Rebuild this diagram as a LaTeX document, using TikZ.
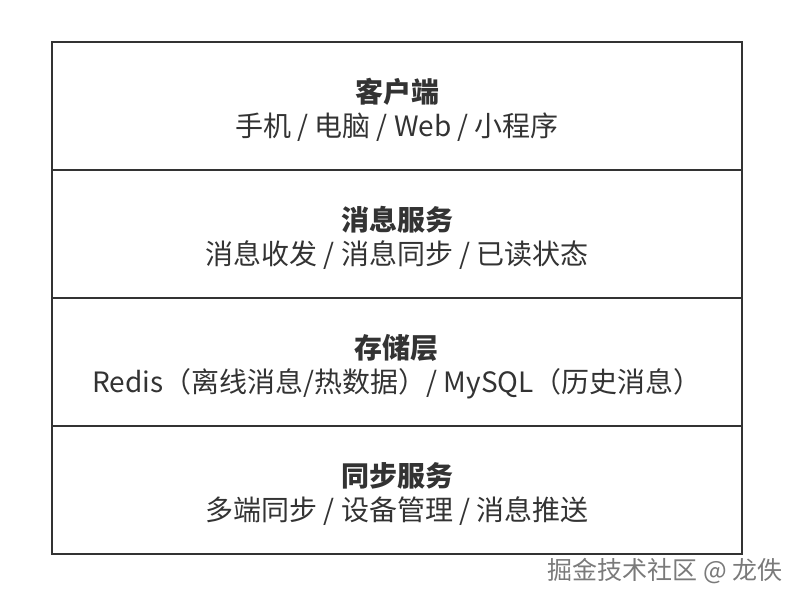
\documentclass[tikz,border=0pt]{standalone}
\usepackage{fontspec}
\setmainfont{Noto Sans CJK SC}
\usepackage{tikz}
\usetikzlibrary{positioning}
\definecolor{linegray}{HTML}{333333}
\definecolor{markgray}{HTML}{7A7A7A}
\newcommand{\layertitle}[1]{\rule{0pt}{33pt}\textbf{#1}}
\tikzset{x=1pt, y=1pt, node distance=0pt,
	layer/.style={draw=linegray, line width=2.5pt, minimum width=690pt, minimum height=128pt, inner sep=0pt, outer sep=0pt, align=center, text=linegray, font=\fontsize{28}{34}\selectfont}}

\begin{document}
\begin{tikzpicture}
	\useasboundingbox (0,0) rectangle (804,-602);
	\node[layer] (Client) at (397,-106) {\layertitle{客户端}\\手机 / 电脑 / Web / 小程序};
	\node[layer, below=of Client] (Message) {\layertitle{消息服务}\\消息收发 / 消息同步 / 已读状态};
	\node[layer, below=of Message] (Storage) {\layertitle{存储层}\\Redis（离线消息/热数据）/ MySQL（历史消息）};
	\node[layer, below=of Storage] (Sync) {\layertitle{同步服务}\\多端同步 / 设备管理 / 消息推送};
	\node[text=markgray, font=\fontsize{25}{28}\selectfont, anchor=east] (watermark) at (786,-571) {掘金技术社区 @ 龙佚};
\end{tikzpicture}
\end{document}
